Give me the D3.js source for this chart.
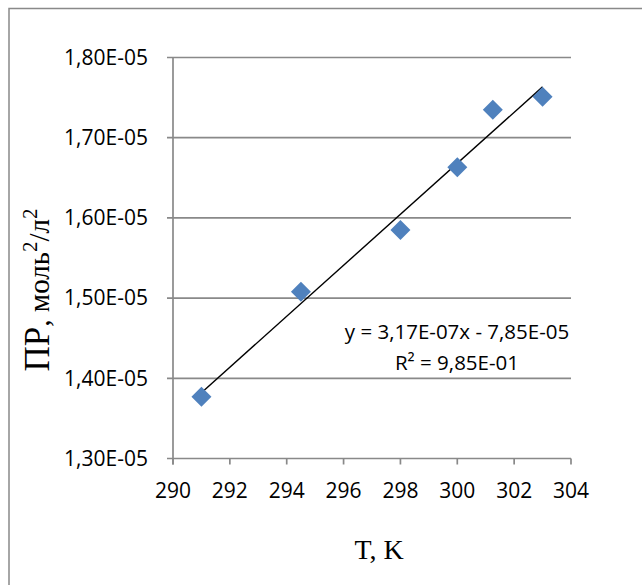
<!DOCTYPE html>
<html>
<head>
<meta charset="utf-8">
<script src="https://cdn.jsdelivr.net/npm/d3@7"></script>
<style>
  html, body { margin: 0; padding: 0; background: #fff; }
  svg { display: block; }
</style>
</head>
<body>
<svg id="chart" width="642" height="585"></svg>
<script>
// ---- data ----
const temperatures = [291, 294.5, 298, 300, 301.25, 303];
const solubilityProduct = [1.377e-5, 1.508e-5, 1.585e-5, 1.663e-5, 1.735e-5, 1.751e-5];
const xTicks = [290, 292, 294, 296, 298, 300, 302, 304];
const yTicks = [1.3e-5, 1.4e-5, 1.5e-5, 1.6e-5, 1.7e-5, 1.8e-5];
const yTickLabels = ["1,30E-05", "1,40E-05", "1,50E-05", "1,60E-05", "1,70E-05", "1,80E-05"];
const equationLines = ["y = 3,17E-07x - 7,85E-05", "R² = 9,85E-01"];
const xTitle = "T, K";

const svg = d3.select("#chart");
const gray = "#898989";
const tickFont = "'Open Sans', 'Liberation Sans', sans-serif";

// outer frame (left and top edges visible)
svg.append("path")
  .attr("d", "M9,590V8.5H650")
  .attr("fill", "none").attr("stroke", gray).attr("stroke-width", 1.5);

const x = d3.scaleLinear().domain([290, 304]).range([173, 571]);
const y = d3.scaleLinear().domain([1.3e-5, 1.8e-5]).range([458.5, 57.5]);

// gridlines
svg.append("g").selectAll("line").data(yTicks).join("line")
  .attr("x1", x(290) - 6).attr("x2", x(304))
  .attr("y1", d => y(d)).attr("y2", d => y(d))
  .attr("stroke", gray).attr("stroke-width", 1.7);

// y axis line
svg.append("line")
  .attr("x1", x(290)).attr("x2", x(290))
  .attr("y1", y(1.8e-5)).attr("y2", y(1.3e-5) + 6)
  .attr("stroke", gray).attr("stroke-width", 1.7);

// x ticks
svg.append("g").selectAll("line").data(xTicks).join("line")
  .attr("x1", d => x(d)).attr("x2", d => x(d))
  .attr("y1", y(1.3e-5)).attr("y2", y(1.3e-5) + 6)
  .attr("stroke", gray).attr("stroke-width", 1.7);

// y tick labels
svg.append("g").selectAll("text").data(yTicks).join("text")
  .attr("x", 148).attr("y", d => y(d))
  .attr("dy", "0.35em")
  .attr("text-anchor", "end")
  .attr("font-family", tickFont).attr("font-size", 21).attr("fill", "#000")
  .text((d, i) => yTickLabels[i]);

// x tick labels
svg.append("g").selectAll("text").data(xTicks).join("text")
  .attr("x", d => x(d)).attr("y", 498)
  .attr("text-anchor", "middle")
  .attr("font-family", tickFont).attr("font-size", 21).attr("fill", "#000")
  .text(d => d);

// trendline (least squares from data)
const mx = d3.mean(temperatures), my = d3.mean(solubilityProduct);
let sxy = 0, sxx = 0;
temperatures.forEach((t, i) => { sxy += (t - mx) * (solubilityProduct[i] - my); sxx += (t - mx) * (t - mx); });
const slope = sxy / sxx, intercept = my - slope * mx;
const [tMin, tMax] = d3.extent(temperatures);
svg.append("line")
  .attr("x1", x(tMin)).attr("y1", y(slope * tMin + intercept))
  .attr("x2", x(tMax)).attr("y2", y(slope * tMax + intercept))
  .attr("stroke", "#000").attr("stroke-width", 1.4);

// points (diamonds)
const diamond = d3.symbol().type(d3.symbolSquare).size(200);
svg.append("g").selectAll("path").data(temperatures).join("path")
  .attr("d", diamond)
  .attr("transform", (d, i) => `translate(${x(d)},${y(solubilityProduct[i])}) rotate(45)`)
  .attr("fill", "#4F81BD");

// equation text
svg.append("g").selectAll("text").data(equationLines).join("text")
  .attr("x", 457).attr("y", (d, i) => 339 + i * 31)
  .attr("text-anchor", "middle")
  .attr("font-family", tickFont).attr("font-size", 20.5).attr("fill", "#000")
  .text(d => d);

// x title
svg.append("text")
  .attr("x", 379).attr("y", 559)
  .attr("text-anchor", "middle")
  .attr("font-family", "'Liberation Serif', 'Times New Roman', serif")
  .attr("font-size", 28).attr("fill", "#000")
  .text(xTitle);

// y title
const yt = svg.append("text")
  .attr("transform", "translate(49,290) rotate(-90)")
  .attr("text-anchor", "middle")
  .attr("font-family", "'Liberation Serif', 'Times New Roman', serif")
  .attr("fill", "#000");
yt.append("tspan").attr("font-size", 35).text("ПР");
yt.append("tspan").attr("font-size", 29).text(", моль");
yt.append("tspan").attr("font-size", 21).attr("dy", -12).text("2");
yt.append("tspan").attr("font-size", 29).attr("dy", 12).text("/л");
yt.append("tspan").attr("font-size", 21).attr("dy", -12).text("2");
</script>
</body>
</html>
